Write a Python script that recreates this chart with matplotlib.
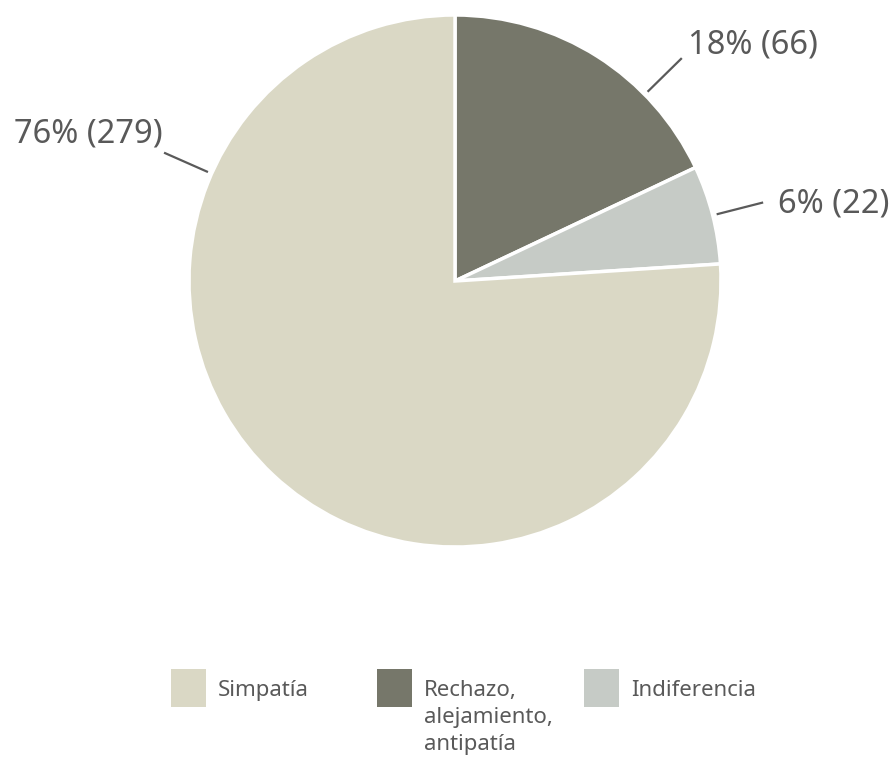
import numpy as np
import matplotlib
matplotlib.use("Agg")
import matplotlib.pyplot as plt
from matplotlib.patches import Rectangle

# Survey answers (counts) and their share of the total
categories = ["Rechazo,\nalejamiento,\nantipatía", "Indiferencia", "Simpatía"]
counts = [66, 22, 279]
percents = [18, 6, 76]
colors = ["#76776a", "#c6cbc6", "#dad8c5"]

legend_order = [2, 0, 1]  # Simpatía, Rechazo, Indiferencia

W, H = 895, 759
fig = plt.figure(figsize=(W / 100, H / 100), dpi=100)
ax = fig.add_axes([0, 0, 1, 1])

plt.rcParams["font.family"] = ["Noto Sans", "DejaVu Sans"]
text_color = "#595959"

cx, cy, R = 455, H - 281, 266

wedges, _ = ax.pie(counts, colors=colors, startangle=90, counterclock=False,
                   center=(cx, cy), radius=R,
                   wedgeprops=dict(edgecolor="white", linewidth=2.5))

# Callout labels: leader direction (deg) and text anchor
label_angles = [44.5, 14.3, 156.2]
label_align = ["left", "left", "right"]
label_pos = [(688, H - 45), (778, H - 204), (163, H - 134)]

for i, (c, p) in enumerate(zip(counts, percents)):
    a = np.deg2rad(label_angles[i])
    r0, r1 = R + 4, R + 52
    x0, y0 = cx + r0 * np.cos(a), cy + r0 * np.sin(a)
    x1, y1 = cx + r1 * np.cos(a), cy + r1 * np.sin(a)
    ax.plot([x0, x1], [y0, y1], color="#5a5a5a", lw=1.6, solid_capstyle="butt")
    ax.text(label_pos[i][0], label_pos[i][1], f"{p}% ({c})", fontsize=23.5,
            color=text_color, ha=label_align[i], va="center")

# Legend row under the pie
leg_x = [171, 377, 584]
for k, idx in enumerate(legend_order):
    x = leg_x[k]
    ax.add_patch(Rectangle((x, H - 707), 35, 38, facecolor=colors[idx],
                           edgecolor="none"))
    ax.text(x + 47, H - 680, categories[idx], fontsize=16, color=text_color,
            ha="left", va="top", linespacing=1.38)

ax.set_xlim(0, W)
ax.set_ylim(0, H)
ax.set_aspect("auto")
ax.axis("off")

fig.savefig("out.png", dpi=100, facecolor="white")
